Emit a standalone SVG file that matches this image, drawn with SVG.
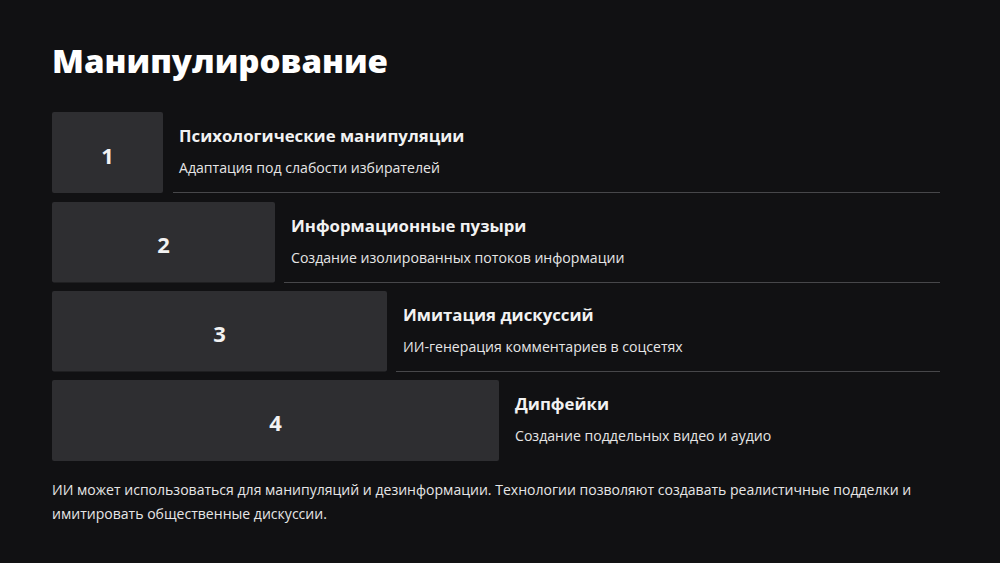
<svg xmlns="http://www.w3.org/2000/svg" width="1000" height="563" viewBox="0 0 1000 563">
<style>
.bg{fill:#111113}
.box{fill:#2e2e31}
.num{font-family:"Open Sans","DejaVu Sans",sans-serif;font-weight:700;font-size:22px;fill:#f2f2f2;text-anchor:middle}
.h{font-family:"Open Sans","DejaVu Sans",sans-serif;font-weight:700;font-size:16.8px;fill:#f2f2f2}
.s{font-family:"Open Sans","Noto Sans",sans-serif;font-size:14.1px;fill:#e6e6e6}
.sep{stroke:#47474a;stroke-width:1}
.t{font-family:"Open Sans","DejaVu Sans",sans-serif;font-weight:800;font-size:32px;fill:#ffffff}
.p{font-family:"Open Sans","Noto Sans",sans-serif;font-size:14.05px;fill:#e6e6e6}
</style>
<rect class="bg" x="0" y="0" width="1000" height="563"/>
<text class="t" x="52" y="73" textLength="336" lengthAdjust="spacingAndGlyphs">Манипулирование</text>
<g id="connectors">
<line class="sep" x1="173" y1="192.5" x2="940" y2="192.5"/>
<line class="sep" x1="284" y1="282.5" x2="940" y2="282.5"/>
<line class="sep" x1="396" y1="371.5" x2="940" y2="371.5"/>
</g>
<g id="node1">
<rect class="box" x="52" y="112" width="111" height="81" rx="2"/>
<text class="num" x="107.5" y="164">1</text>
<text class="h" x="179" y="142">Психологические манипуляции</text>
<text class="s" x="179" y="173">Адаптация под слабости избирателей</text>
</g>
<g id="node2">
<rect class="box" x="52" y="202" width="223" height="80.5" rx="2"/>
<text class="num" x="163.5" y="253">2</text>
<text class="h" x="291" y="232">Информационные пузыри</text>
<text class="s" x="291" y="263">Создание изолированных потоков информации</text>
</g>
<g id="node3">
<rect class="box" x="52" y="291" width="335" height="80.5" rx="2"/>
<text class="num" x="219.5" y="342">3</text>
<text class="h" x="403" y="321">Имитация дискуссий</text>
<text class="s" x="403" y="352">ИИ-генерация комментариев в соцсетях</text>
</g>
<g id="node4">
<rect class="box" x="52" y="380" width="447" height="81" rx="2"/>
<text class="num" x="275.5" y="431">4</text>
<text class="h" x="515" y="410">Дипфейки</text>
<text class="s" x="515" y="441">Создание поддельных видео и аудио</text>
</g>
<text class="p" x="52" y="495">ИИ может использоваться для манипуляций и дезинформации. Технологии позволяют создавать реалистичные подделки и</text>
<text class="p" x="52" y="519">имитировать общественные дискуссии.</text>
</svg>
